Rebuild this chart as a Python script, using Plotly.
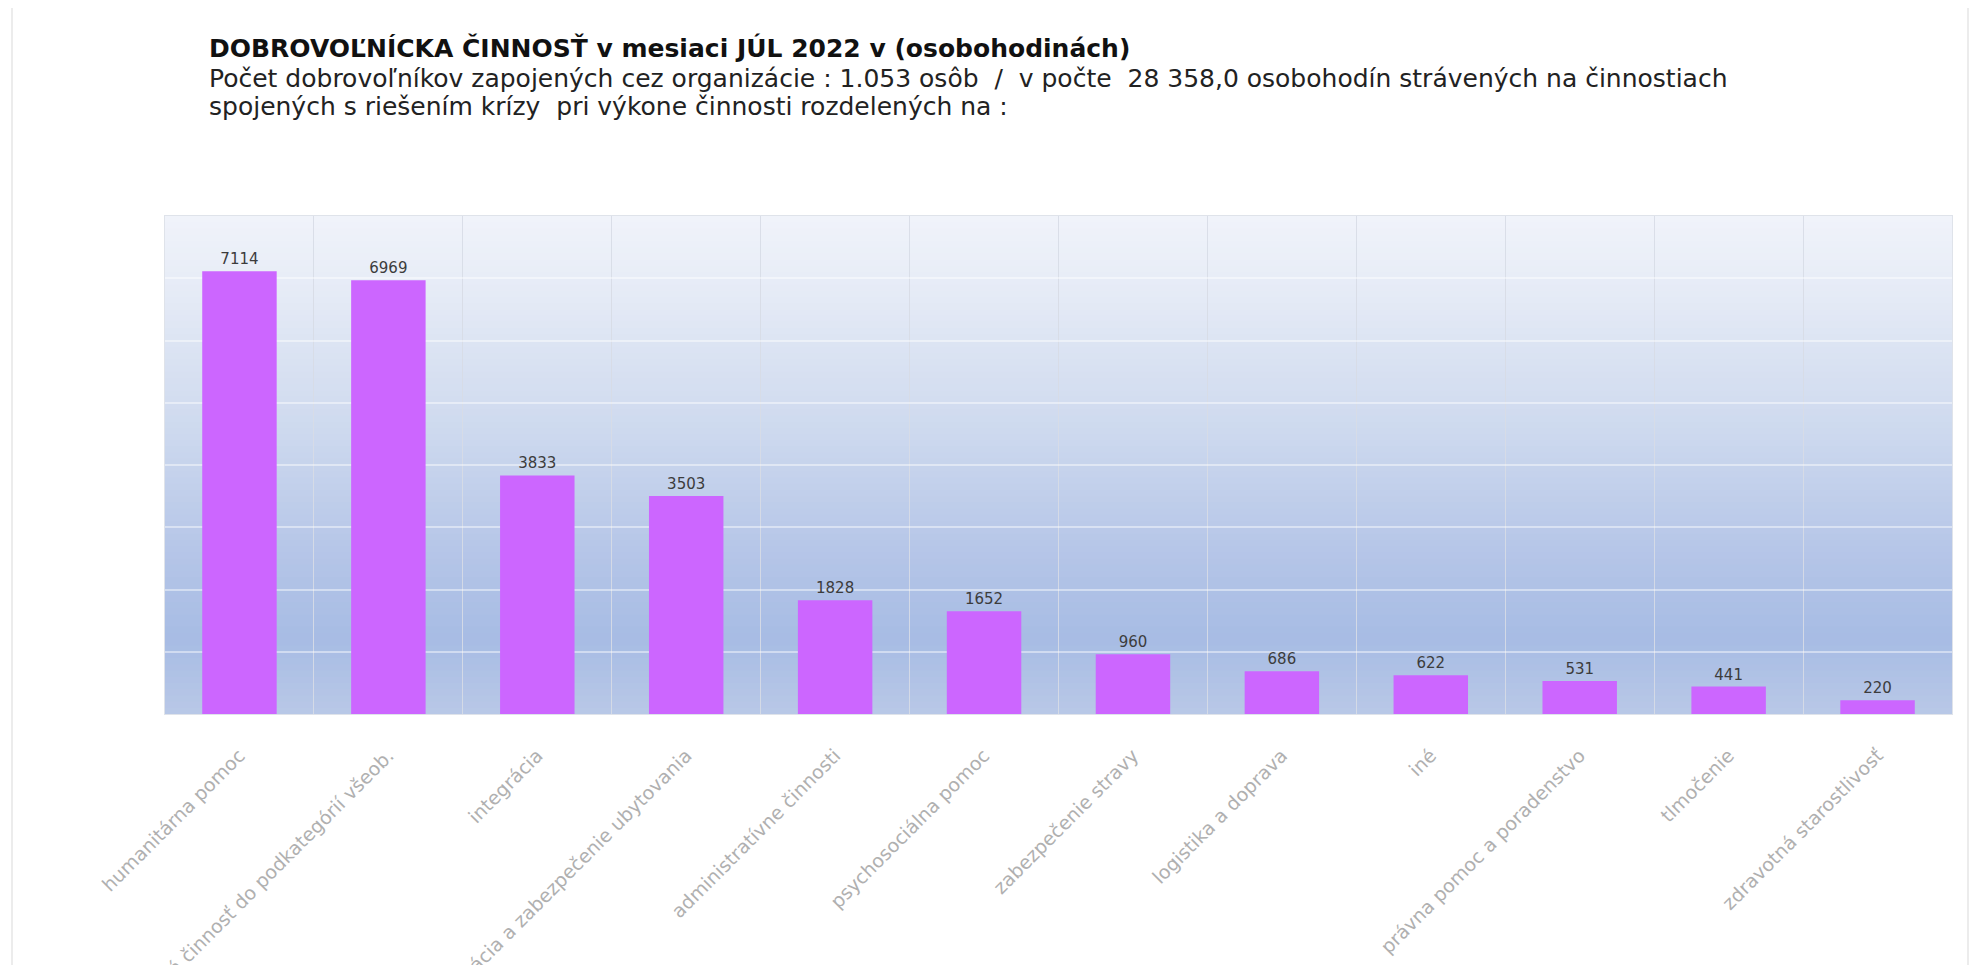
import plotly.graph_objects as go

categories = [
    "humanitárna pomoc",
    "nezaradená činnosť do podkategórií všeob.",
    "integrácia",
    "koordinácia a zabezpečenie ubytovania",
    "administratívne činnosti",
    "psychosociálna pomoc",
    "zabezpečenie stravy",
    "logistika a doprava",
    "iné",
    "právna pomoc a poradenstvo",
    "tlmočenie",
    "zdravotná starostlivosť",
]
hours = [7114, 6969, 3833, 3503, 1828, 1652, 960, 686, 622, 531, 441, 220]

title_text = "DOBROVOĽNÍCKA ČINNOSŤ v mesiaci JÚL 2022 v (osobohodinách)"
subtitle_1 = ("Počet dobrovoľníkov zapojených cez organizácie : 1.053 osôb  /  v počte  "
              "28 358,0 osobohodín strávených na činnostiach")
subtitle_2 = "spojených s riešením krízy  pri výkone činnosti rozdelených na :"

OFF = 8  # page body margin
W, H = 1978 - OFF, 965 - OFF
L, R, T, B = 165 - OFF, 1952 - OFF, 216 - OFF, 714 - OFF

fig = go.Figure()
fig.add_trace(go.Bar(
    x=categories, y=hours,
    marker=dict(color="#cc66ff", line=dict(width=0)),
    width=0.5,
    text=hours, texttemplate="%{text}", textposition="outside",
    textfont=dict(family="DejaVu Sans", size=15, color="#3c3c3c"),
    cliponaxis=False,
))

# vertical gradient background of the plot area
stops = [(0.0, (0xb9, 0xc8, 0xe7)), (0.15, (0xa7, 0xbc, 0xe4)), (0.30, (0xb3, 0xc4, 0xe7)),
         (0.60, (0xd0, 0xdb, 0xef)), (0.88, (0xe8, 0xed, 0xf7)), (1.0, (0xf0, 0xf3, 0xfa))]
def col(t):
    for (a, ca), (b, cb) in zip(stops[:-1], stops[1:]):
        if a <= t <= b:
            f = (t - a) / (b - a)
            return "rgb(%d,%d,%d)" % tuple(round(ca[i] + (cb[i] - ca[i]) * f) for i in range(3))
    return "rgb(240,243,250)"
N = 80
shapes = []
for i in range(N):
    y0, y1 = i / N, (i + 1) / N
    shapes.append(dict(type="rect", xref="paper", yref="paper", x0=0, x1=1, y0=y0, y1=y1 + 0.002,
                       fillcolor=col((y0 + y1) / 2), line=dict(width=0), layer="below"))
# page-pixel -> paper coordinates
px = lambda p: (p - OFF - L) / (R - L)
py = lambda p: (B - (p - OFF)) / (B - T)
# outer container border
shapes.append(dict(type="rect", xref="paper", yref="paper", x0=px(12), x1=px(1968), y0=py(-5), y1=py(975),
                   line=dict(color="#e6e6e6", width=1.5), fillcolor="rgba(0,0,0,0)", layer="below"))

fig.update_layout(
    width=W, height=H,
    margin=dict(l=L, r=W - R, t=T, b=H - B, autoexpand=False),
    paper_bgcolor="white", plot_bgcolor="#e8eef8",
    showlegend=False,
    shapes=shapes,
    annotations=[
        dict(text="<b>" + title_text + "</b>", xref="paper", yref="paper", x=px(207), y=py(48),
             xanchor="left", yanchor="middle", showarrow=False,
             font=dict(family="DejaVu Sans", size=25, color="#111111")),
        dict(text=subtitle_1, xref="paper", yref="paper", x=px(207), y=py(78),
             xanchor="left", yanchor="middle", showarrow=False,
             font=dict(family="DejaVu Sans", size=25, color="#222222")),
        dict(text=subtitle_2, xref="paper", yref="paper", x=px(207), y=py(107),
             xanchor="left", yanchor="middle", showarrow=False,
             font=dict(family="DejaVu Sans", size=25, color="#222222")),
    ],
)
fig.update_xaxes(
    tickangle=-45, tickson="boundaries", showgrid=True, gridcolor="rgba(215,220,230,0.9)", gridwidth=1,
    ticks="", ticklabelstandoff=22,
    tickfont=dict(family="DejaVu Sans", size=19, color="#b0b0b0"),
    showline=True, linecolor="#dfe3ea", mirror=True, automargin=False,
)
fig.update_yaxes(
    range=[0, 8000], dtick=1000, showgrid=True, gridcolor="rgba(255,255,255,0.45)", gridwidth=2,
    showticklabels=False, zeroline=False,
    showline=True, linecolor="#dfe3ea", mirror=True, automargin=False,
)
fig.write_html("out.html")
